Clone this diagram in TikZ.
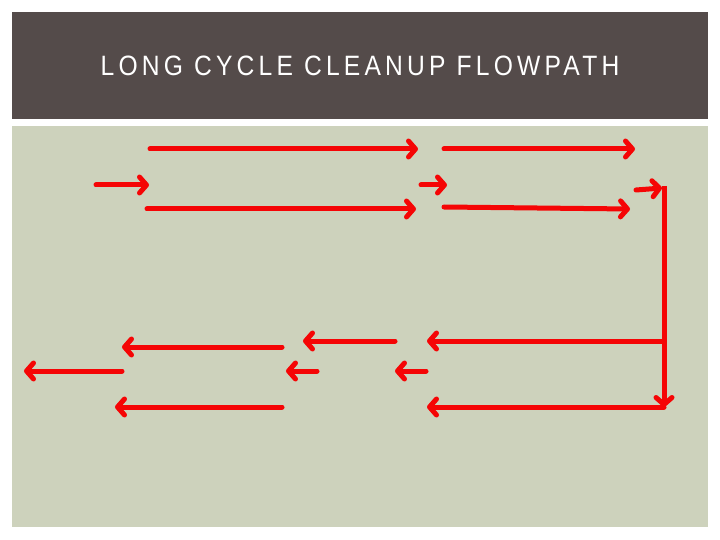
\documentclass[tikz,border=0pt]{standalone}
\usepackage{fontspec}
\setmainfont{Liberation Sans}
\newfontfamily\titlefont[FakeStretch=0.88,LetterSpace=15]{Liberation Sans}
\usepackage{xcolor}
\usepackage{tikz}
\usetikzlibrary{arrows.meta,positioning,calc}

\definecolor{barbrown}{RGB}{84,75,74}
\definecolor{panelsage}{RGB}{205,210,188}
\definecolor{flowred}{RGB}{245,5,5}

\begin{document}
\begin{tikzpicture}[
        x=1pt, y=-1pt,
        bar/.style={fill=barbrown, draw=none},
        panel/.style={fill=panelsage, draw=none},
        heading/.style={
            text=white, inner sep=0pt, anchor=base,
            font=\titlefont\fontsize{28}{30}\selectfont
        },
        flow/.style={
            draw=flowred, line width=5pt, line cap=round, line join=round,
            -{Straight Barb[length=7pt,width=16pt,round]}
        },
        flowline/.style={draw=flowred, line width=5pt}
    ]

    % Page and frames
    \useasboundingbox[fill=white] (0,0) rectangle (720,540);
    \path[bar] (12,12) rectangle (708,119);
    \path[panel] (12,126) rectangle (708,527);

    \node[heading] (title) at (360,76) {LONG CYCLE CLEANUP FLOWPATH};

    % Forward runs (upper rows)
    \foreach \name/\sx/\sy/\ex/\ey in {
        topA/150/149/418/149, topB/444/149/635/149,
        midA/96/185/149/185, midB/421/185/447/185, midC/636/190/662/188,
        lowA/147/209/416/209, lowB/444/207/630/209}
    {
        \coordinate (\name-s) at (\sx,\sy);
        \coordinate (\name-e) at (\ex,\ey);
        \draw[flow] (\name-s) -- (\name-e);
    }

    % Return riser
    \coordinate (riserTop) at (664,186);
    \coordinate (riserBot) at (664,407);
    \coordinate (riserMid) at (664,341);
    \draw[flowline] (riserTop) -- (riserMid);
    \draw[flow] (riserMid) -- (riserBot);

    % Return runs (lower rows)
    \coordinate (retA-e) at (427,341);
    \coordinate (retB-e) at (427,407);
    \draw[flow] (riserMid) -- (retA-e);
    \draw[flow] (riserBot) -- (retB-e);

    \foreach \name/\sx/\sy/\ex/\ey in {
        backA/395/341/303/341, backB/282/347/122/347,
        backC/122/371/24/371, backD/317/371/286/371,
        backE/426/371/395/371, backF/282/407/115/407}
    {
        \coordinate (\name-s) at (\sx,\sy);
        \coordinate (\name-e) at (\ex,\ey);
        \draw[flow] (\name-s) -- (\name-e);
    }

\end{tikzpicture}
\end{document}
